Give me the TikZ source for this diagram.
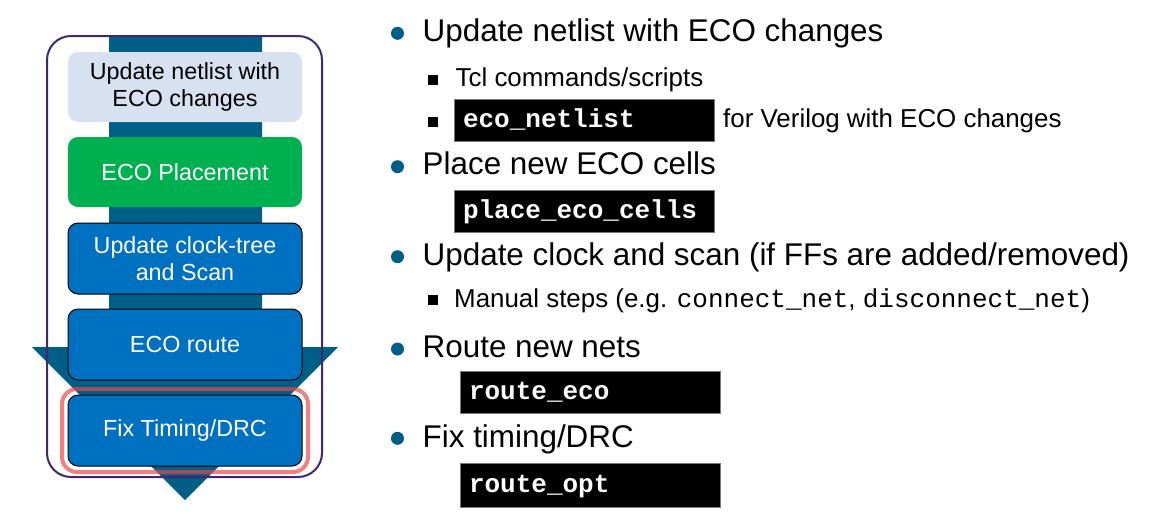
\documentclass[tikz,border=0pt]{standalone}
\usepackage{fontspec}
\setmainfont{Liberation Sans}
\setmonofont{Liberation Mono}
\usetikzlibrary{fit}

\definecolor{flowteal}{RGB}{0,95,135}
\definecolor{stepblue}{RGB}{0,112,192}
\definecolor{stepgreen}{RGB}{0,176,80}
\definecolor{steplight}{RGB}{215,225,240}
\definecolor{framepurple}{RGB}{64,40,110}
\definecolor{haloRed}{RGB}{235,70,70}
\definecolor{codeedge}{RGB}{120,120,120}

\tikzset{
  stepbox/.style={rectangle, rounded corners=10pt, minimum width=234pt,
    minimum height=71pt, align=center, inner sep=0pt,
    font=\fontsize{23.3}{26.7}\selectfont},
  darkstep/.style={stepbox, fill=stepblue, draw=black, line width=1pt, text=white},
  dot/.style={circle, fill=flowteal, minimum size=13pt, inner sep=0pt},
  sqdot/.style={rectangle, fill=black, minimum size=10pt, inner sep=0pt},
  maintext/.style={anchor=base west, inner sep=0pt, font=\fontsize{31.4}{37}\selectfont},
  subtext/.style={anchor=base west, inner sep=0pt, font=\fontsize{25.9}{30}\selectfont},
  codebox/.style={rectangle, fill=black, draw=codeedge, line width=1pt, text=white,
    text width=242pt, inner xsep=9pt, inner ysep=0pt, align=left,
    text height=18pt, text depth=4pt, minimum height=42pt,
    font=\ttfamily\bfseries\fontsize{26}{30}\selectfont},
}
\newcommand{\cmdtext}[1]{{\ttfamily\fontsize{26}{30}\selectfont #1}}

\begin{document}
\begin{tikzpicture}[x=1pt, y=-1pt]
\useasboundingbox (0,0) rectangle (1159,528);
\fill[white] (0,0) rectangle (1159,528);

% big flow arrow behind the steps
\fill[flowteal] (109,36) -- (262,36) -- (262,347) -- (338,347) -- (185,500)
  -- (32,347) -- (109,347) -- cycle;

% frame round the flow
\draw[framepurple, line width=2pt, rounded corners=24pt] (47,36) rectangle (322,477);

% steps
\node[stepbox, fill=steplight, text=black, minimum height=70pt] (upd) at (185,87)
  {Update netlist with\\ECO changes};
\node[stepbox, fill=stepgreen, text=white, minimum height=70pt] (place) at (185,172)
  {ECO Placement};
\node[darkstep] (clk) at (185,258.5) {Update clock-tree\\and Scan};
\node[darkstep] (route) at (185,344.5) {ECO route};
\node[darkstep] (fix) at (185,430.5) {Fix Timing/DRC};

% highlight round the last step
\node[fit=(fix), inner sep=5.5pt, rounded corners=15pt, draw=haloRed,
  draw opacity=0.68, line width=4pt] (halo) {};

% bullet list
\node[dot] (d1) at (397.5,33.3) {};
\node[maintext] (t1) at (422.5,41.7) {Update netlist with ECO changes};

\node[sqdot] (s1) at (433,80) {};
\node[subtext] (u1) at (455.5,86) {Tcl commands/scripts};

\node[sqdot] (s2) at (433,122) {};
\node[codebox] (c1) at (584,120) {eco\_netlist};
\node[subtext] (u2) at (723,127) {for Verilog with ECO changes};

\node[dot] (d2) at (397.5,166.7) {};
\node[maintext] (t2) at (422.5,174.5) {Place new ECO cells};
\node[codebox] (c2) at (584,211) {place\_eco\_cells};

\node[dot] (d3) at (397.5,256.7) {};
\node[maintext] (t3) at (422.5,265) {Update clock and scan (if FFs are added/removed)};

\node[sqdot] (s3) at (433,300) {};
\node[subtext] (u3) at (454,307) {Manual steps (e.g. \cmdtext{connect\_net}, \cmdtext{disconnect\_net})};

\node[dot] (d4) at (397.5,349) {};
\node[maintext] (t4) at (422.5,357) {Route new nets};
\node[codebox] (c3) at (590,392.5) {route\_eco};

\node[dot] (d5) at (397.5,438.3) {};
\node[maintext] (t5) at (422.5,447.5) {Fix timing/DRC};
\node[codebox, minimum height=44pt] (c4) at (590,485) {route\_opt};
\end{tikzpicture}
\end{document}
